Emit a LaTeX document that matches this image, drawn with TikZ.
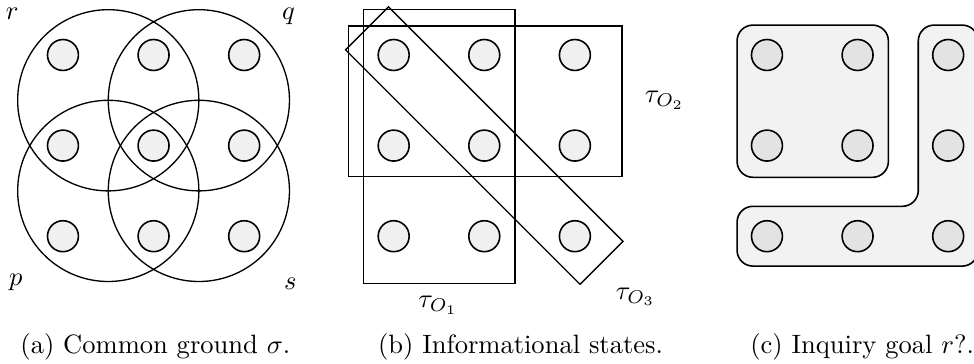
\documentclass[tikz,border=0pt]{standalone}
\usepackage{amsmath}

\begin{document}
\begin{tikzpicture}[x=1.2cm,y=1.2cm,line width=0.5pt,
  world/.style={circle,draw,line width=0.6pt,fill=black!6,minimum size=0.41cm,inner sep=0pt},
  cworld/.style={world,fill=black!11},
  prop/.style={line width=0.5pt},
  goal/.style={draw,fill=black!5,line width=0.6pt,rounded corners=0.21cm},
  capt/.style={anchor=base}]
\useasboundingbox (-0.695,0.607) rectangle (10.055,-3.41);
% ================ (a) 共同基础 ================
\begin{scope}
% 四个命题圆
\foreach \cx/\cy in {0.5/-0.5,1.5/-0.5,0.5/-1.5,1.5/-1.5}{\draw[prop] (\cx,\cy) circle (1.0);}
% 九个可能世界
\foreach \i in {0,1,2}{\foreach \j in {0,1,2}{\node[world] (a\i\j) at (\i,-\j) {};}}
\node (lr) at (-0.56,0.45) {$r$};
\node (lq) at (2.49,0.43) {$q$};
\node (lp) at (-0.52,-2.51) {$p$};
\node (ls) at (2.51,-2.52) {$s$};
\node[capt] (capa) at (1.02,-3.30) {(a) Common ground $\sigma$.};
\end{scope}
% ================ (b) 信息状态 ================
\begin{scope}[shift={(3.65,0)}]
\draw[prop] (-0.33,0.5) rectangle (1.34,-2.52);
\draw[prop] (-0.5,0.32) rectangle (2.52,-1.34);
% 斜放的长方形
\begin{scope}[shift={(1,-1)},rotate=-45]
\draw[prop] (-1.83,-0.335) rectangle (1.83,0.335);
\end{scope}
\foreach \i in {0,1,2}{\foreach \j in {0,1,2}{\node[world] (b\i\j) at (\i,-\j) {};}}
\node (to1) at (0.49,-2.76) {$\tau_{O_1}$};
\node (to2) at (2.99,-0.5) {$\tau_{O_2}$};
\node (to3) at (2.67,-2.67) {$\tau_{O_3}$};
\node[capt] (capb) at (1.4,-3.30) {(b) Informational states.};
\end{scope}
% ================ (c) 探究目标 ================
\begin{scope}[shift={(7.77,0)}]
\filldraw[goal] (-0.33,0.33) rectangle (1.34,-1.35);
\filldraw[goal] (-0.33,-1.67) -- (1.67,-1.67) -- (1.67,0.33) -- (2.33,0.33)
  -- (2.33,-2.33) -- (-0.33,-2.33) -- cycle;
\foreach \i in {0,1,2}{\foreach \j in {0,1,2}{\node[cworld] (c\i\j) at (\i,-\j) {};}}
\node[capt] (capc) at (1.05,-3.30) {(c) Inquiry goal $r$?.};
\end{scope}
\end{tikzpicture}
\end{document}
